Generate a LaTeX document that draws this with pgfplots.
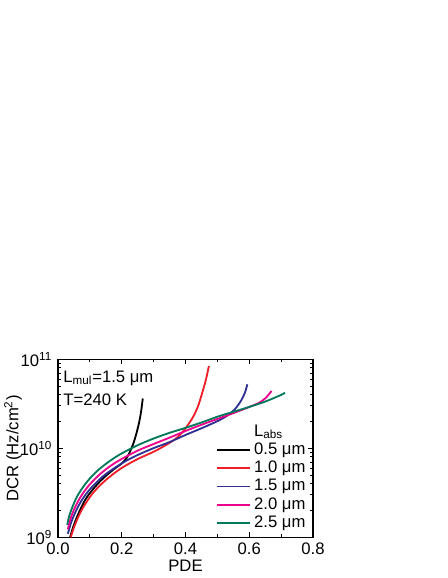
\documentclass[border=0pt]{standalone}
\usepackage{fontspec}
\setmainfont{Liberation Sans}
\usepackage{pgfplots}
\pgfplotsset{compat=1.18}

\definecolor{cblue}{RGB}{46,49,146}
\definecolor{cmag}{RGB}{236,0,140}
\definecolor{cgreen}{RGB}{0,120,90}
\definecolor{cred}{RGB}{240,30,40}

\begin{document}
\fontsize{10}{12}\selectfont
\begin{tikzpicture}
\begin{axis}[
    at={(0,0)}, anchor=south west,
    scale only axis,
    width=153pt, height=106.8pt,
    ymode=log,
    xmin=0, xmax=0.8,
    ymin=1e9, ymax=1e11,
    xtick={0,0.2,0.4,0.6,0.8},
    xticklabels={0.0,0.2,0.4,0.6,0.8},
    minor x tick num=1,
    ytick={1e9,1e10,1e11},
    yticklabels={10\textsuperscript{9},10\textsuperscript{10},10\textsuperscript{11}},
    tick align=inside,
    major tick length=3pt,
    minor tick length=1.8pt,
    every tick/.style={black, line width=0.6pt},
    axis line style={line width=0.7pt},
    tick label style={font=\fontsize{10}{12}\selectfont},
    label style={font=\fontsize{10}{12}\selectfont},
    xlabel={PDE},
    ylabel={DCR (Hz/cm\textsuperscript{2})},
    xlabel style={yshift=4pt},
    every axis y label/.style={at={(axis description cs:-0.176,0.5)}, rotate=90, anchor=center},
    legend style={at={(0.985,0.02)}, anchor=south east, draw=none, fill=none,
        font=\fontsize{10}{12}\selectfont, row sep=-1.5pt, inner sep=0pt},
    legend cell align=left,
    legend image code/.code={\draw[#1] (0pt,0pt) -- (20pt,0pt);},
    every axis plot/.append style={line width=1.1pt, smooth},
]
\addlegendimage{empty legend}
\addlegendentry{L\textsubscript{abs}}

% 0.5 um
\addplot[black] coordinates {
(0.038,1e9) (0.045,1.222e9) (0.055,1.545e9) (0.07,2.056e9) (0.085,2.624e9)
(0.1,3.14e9) (0.125,4.009e9) (0.15,4.898e9) (0.175,5.808e9) (0.2,6.761e9)
(0.215,7.762e9) (0.228,9.55e9) (0.238,1.175e10) (0.247,1.514e10)
(0.255,1.995e10) (0.261,2.63e10) (0.266,3.631e10)
};
\addlegendentry{0.5 μm}

% 1.0 um
\addplot[cred] coordinates {
(0.040,1e9) (0.05,1.288e9) (0.065,1.738e9) (0.08,2.203e9) (0.105,3.0e9)
(0.13,3.776e9) (0.16,4.721e9) (0.2,6.026e9) (0.25,7.586e9) (0.3,9.141e9)
(0.34,1.096e10) (0.37,1.288e10) (0.39,1.514e10) (0.41,1.883e10)
(0.425,2.291e10) (0.44,3.02e10) (0.453,4.266e10) (0.464,5.888e10)
(0.4735,8.414e10)
};
\addlegendentry{1.0 μm}

% 1.5 um
\addplot[cblue] coordinates {
(0.031,1.096e9) (0.04,1.423e9) (0.05,1.766e9) (0.065,2.28e9) (0.08,2.792e9)
(0.1,3.467e9) (0.13,4.467e9) (0.16,5.457e9) (0.209,7.079e9) (0.25,8.414e9)
(0.3,1.005e10) (0.35,1.175e10) (0.4,1.413e10) (0.45,1.679e10)
(0.5,2.018e10) (0.53,2.317e10) (0.555,2.754e10) (0.575,3.467e10)
(0.587,4.266e10) (0.594,5.236e10)
};
\addlegendentry{1.5 μm}

% 2.0 um
\addplot[cmag] coordinates {
(0.031,1.23e9) (0.04,1.652e9) (0.05,2.042e9) (0.065,2.618e9) (0.08,3.192e9)
(0.1,3.944e9) (0.13,5.058e9) (0.16,6.166e9) (0.194,7.396e9) (0.25,9.419e9)
(0.3,1.119e10) (0.35,1.318e10) (0.4,1.567e10) (0.45,1.841e10)
(0.5,2.138e10) (0.55,2.483e10) (0.6,2.917e10) (0.63,3.236e10)
(0.65,3.631e10) (0.67,4.406e10)
};
\addlegendentry{2.0 μm}

% 2.5 um
\addplot[cgreen] coordinates {
(0.029,1.38e9) (0.035,1.73e9) (0.045,2.183e9) (0.06,2.884e9) (0.08,3.732e9)
(0.1,4.592e9) (0.13,5.861e9) (0.167,7.396e9) (0.2,8.77e9) (0.25,1.084e10)
(0.3,1.288e10) (0.35,1.493e10) (0.4,1.698e10) (0.45,1.95e10)
(0.5,2.265e10) (0.55,2.57e10) (0.6,2.917e10) (0.65,3.35e10)
(0.7,3.981e10) (0.712,4.217e10)
};
\addlegendentry{2.5 μm}

\node[anchor=west, inner sep=0pt] at (rel axis cs:0.02,0.895) {L\textsubscript{mul}=1.5 μm};
\node[anchor=west, inner sep=0pt] at (rel axis cs:0.02,0.771) {T=240 K};
\end{axis}
\pgfresetboundingbox
\path[use as bounding box] (-34.8pt,-24.4pt) rectangle (233.4pt,322.4pt);
\end{tikzpicture}
\end{document}
